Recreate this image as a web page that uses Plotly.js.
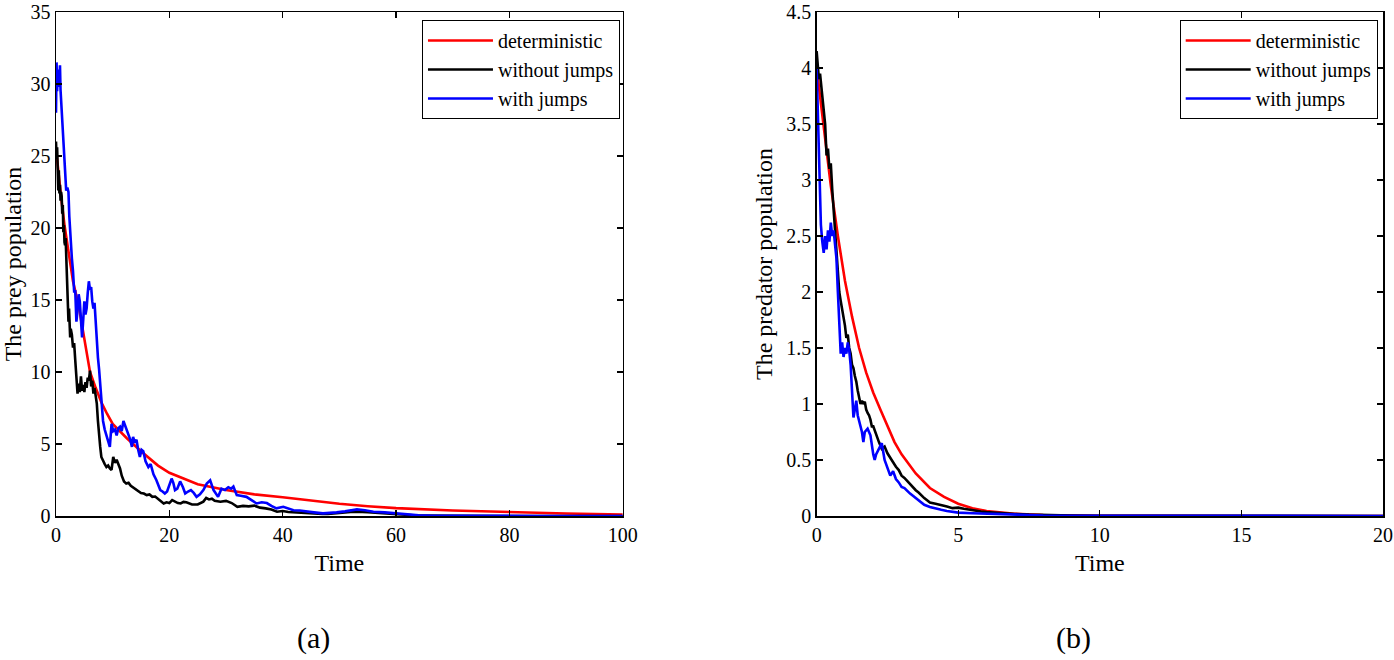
<!DOCTYPE html>
<html>
<head>
<meta charset="utf-8">
<script src="https://cdn.plot.ly/plotly-3.0.1.min.js"></script>
<style>html,body{margin:0;padding:0;background:#fff;}#chart{width:1394px;height:660px;}</style>
</head>
<body>
<div id="chart"></div>
<script>
// ---------- Panel (a): prey ----------
const preyDetT = [0,0.5,1,1.5,2,3,4,5,6,7,8,9,10,12.5,15,18,20,22.5,25,30,35,40,45,50,55,60,70,80,90,100];
const preyDetV = [25.5,23.5,21.8,20.2,18.8,16.3,14.6,12.2,10.0,8.9,7.9,7.1,6.4,5.4,4.5,3.5,3.0,2.6,2.2,1.8,1.5,1.3,1.05,0.85,0.68,0.55,0.38,0.26,0.17,0.1];

const preyNoJumpT = [
  0,0.1,0.2,0.3,0.4,0.5,0.6,0.7,0.8,0.9,
  1.0,1.1,1.2,1.3,1.4,1.5,1.6,1.7,1.8,1.9,
  2.0,2.1,2.2,2.3,2.4,2.5,2.6,2.8,3.0,3.2,
  3.4,3.6,3.8,4.0,4.2,4.4,4.6,4.8,5.0,5.2,
  5.4,5.6,5.8,6.0,6.2,6.4,6.6,6.8,7.0,7.2,
  7.4,7.6,7.8,8.0,8.3,8.6,8.9,9.2,9.5,9.8,
  10.1,10.4,10.7,11.0,11.3,11.6,12.0,12.4,12.8,13.2,
  13.6,14.0,14.5,15.0,15.5,16.0,16.5,17.0,17.5,18.0,
  18.5,19.0,19.5,20.0,20.5,21.0,21.5,22.0,22.5,23.0,
  23.5,24.0,25.0,26.0,26.5,27.0,27.5,28.0,29.0,30.0,
  31,32,33,34,35,36,37,38,39,40,
  41,42,43,44,45,46,47,48,49,50,
  51,52,53,54,55,56,57,58,59,60,
  61,62,63,65,68,72,80,90,100];
const preyNoJumpV = [
  26.0,24.8,25.6,23.4,22.6,24.0,22.4,23.0,21.9,22.5,
  22.2,21.0,21.6,19.7,20.2,19.0,18.8,19.3,17.9,17.6,
  16.2,14.6,13.5,14.4,13.2,12.4,13.0,12.6,11.7,12.0,
  10.8,9.6,8.5,9.2,8.6,9.7,8.7,9.1,8.6,9.3,
  8.9,9.6,9.4,10.1,9.0,9.4,8.5,8.9,8.2,7.8,
  6.6,5.5,4.8,4.1,3.8,3.6,3.4,3.5,3.3,3.2,
  4.1,3.7,3.9,3.6,3.3,2.8,2.4,2.25,2.3,2.1,
  2.0,1.9,1.75,1.6,1.56,1.45,1.5,1.33,1.35,1.2,
  1.0,0.87,0.95,0.9,1.1,1.0,0.9,0.87,0.98,0.95,
  0.85,0.8,0.8,1.0,1.25,1.15,1.2,1.05,0.99,1.05,
  0.9,0.64,0.7,0.67,0.72,0.58,0.53,0.45,0.3,0.35,
  0.28,0.25,0.22,0.2,0.18,0.17,0.15,0.14,0.16,0.2,
  0.24,0.28,0.3,0.28,0.27,0.24,0.2,0.18,0.15,0.12,
  0.09,0.07,0.05,0.03,0.02,0.01,0.005,0.002,0.001];

const preyJumpT = [
  0,0.1,0.2,0.3,0.4,0.5,0.6,0.7,0.8,0.9,
  1.0,1.1,1.2,1.3,1.4,1.5,1.6,1.8,2.0,2.2,
  2.35,2.5,2.65,2.8,3.0,3.2,3.4,3.6,3.8,4.0,
  4.2,4.4,4.6,4.8,5.0,5.2,5.4,5.6,5.8,6.0,
  6.2,6.4,6.6,6.8,7.0,7.2,7.4,7.6,7.8,8.0,
  8.3,8.6,8.9,9.2,9.5,9.8,10.1,10.4,10.7,11.0,
  11.3,11.6,11.9,12.2,12.5,12.8,13.1,13.4,13.6,13.9,
  14.2,14.5,14.8,15.1,15.4,15.8,16.3,16.7,17.2,17.7,
  18.1,18.4,18.8,19.2,19.6,20.0,20.4,20.7,21.0,21.4,
  21.9,22.4,22.8,23.3,23.8,24.3,24.8,25.4,26.0,26.6,
  27.2,27.8,28.2,28.6,29.2,29.8,30.4,30.9,31.3,31.9,
  32.6,33.6,34.5,35.4,36.3,37.2,38.0,38.9,40.1,41.0,
  41.9,43.0,44.2,45.5,47.1,48.3,49.5,51.0,52.0,53.1,
  54.5,56.0,58.0,60.2,61.5,62.5,64.0,66.0,69.0,75,
  85,100];
const preyJumpV = [
  28.0,31.5,29.5,30.8,29.8,31.0,30.2,31.3,29.6,28.9,
  28.2,27.2,26.5,25.4,25.0,23.9,23.6,22.6,22.8,22.5,
  20.8,19.7,18.3,17.9,17.0,15.6,15.6,13.5,14.3,15.4,
  14.9,13.8,12.4,13.6,14.9,14.0,14.4,15.5,16.3,15.7,
  15.9,14.9,14.4,14.8,13.2,12.1,11.0,10.2,9.0,7.8,
  6.6,6.0,5.5,5.2,4.8,6.4,5.9,6.0,5.6,6.1,
  6.2,5.9,6.6,6.3,6.0,5.7,5.3,4.8,5.5,5.1,
  5.3,4.6,4.1,4.6,4.5,3.8,3.4,3.6,2.9,2.5,
  2.1,1.8,1.7,1.56,1.7,2.1,2.6,2.3,1.8,1.9,
  2.4,2.0,1.56,1.7,1.8,1.6,1.33,1.5,1.8,2.25,
  2.48,1.8,1.6,1.33,1.9,1.8,2.0,1.9,2.05,1.45,
  1.4,1.33,1.1,0.87,0.95,0.9,0.7,0.53,0.64,0.5,
  0.4,0.38,0.3,0.25,0.18,0.2,0.25,0.32,0.4,0.46,
  0.4,0.3,0.25,0.18,0.12,0.07,0.05,0.03,0.02,0.01,
  0.005,0.002];

// ---------- Panel (b): predator ----------
const predDetT = [0,0.25,0.5,0.75,1,1.25,1.5,1.75,2,2.25,2.5,2.75,3,3.5,4,4.5,5,5.5,6,7,8,9,10,12,15,20];
const predDetV = [4.0,3.45,2.95,2.5,2.1,1.78,1.5,1.28,1.1,0.95,0.8,0.66,0.55,0.38,0.25,0.17,0.11,0.07,0.045,0.02,0.009,0.004,0.002,0.001,0,0];

const predNoJumpT = [
  0,0.04,0.08,0.12,0.16,0.2,0.25,0.3,0.35,0.4,
  0.45,0.5,0.55,0.6,0.65,0.7,0.75,0.8,0.85,0.9,
  0.95,1.0,1.05,1.1,1.15,1.2,1.25,1.3,1.35,1.4,
  1.45,1.5,1.55,1.6,1.65,1.7,1.75,1.8,1.85,1.9,
  1.95,2.0,2.1,2.2,2.3,2.4,2.5,2.6,2.7,2.8,
  2.9,3.0,3.1,3.2,3.3,3.4,3.5,3.6,3.7,3.8,
  3.9,4.0,4.2,4.4,4.6,4.8,5.0,5.2,5.4,5.6,
  5.8,6.0,6.5,7.0,7.5,8.0,9.0,10,12,20];
const predNoJumpV = [
  4.15,4.02,3.9,3.95,3.85,3.78,3.62,3.5,3.22,3.28,
  3.1,3.15,2.92,2.75,2.5,2.35,2.2,2.0,1.92,1.85,
  1.8,1.7,1.59,1.62,1.5,1.45,1.35,1.32,1.25,1.2,
  1.12,1.05,1.0,1.03,1.0,1.02,0.95,0.92,0.9,0.86,
  0.8,0.8,0.72,0.66,0.6,0.62,0.56,0.52,0.47,0.44,
  0.41,0.36,0.34,0.31,0.29,0.26,0.23,0.21,0.18,0.16,
  0.14,0.12,0.11,0.1,0.085,0.07,0.075,0.065,0.055,0.045,
  0.04,0.035,0.025,0.018,0.012,0.008,0.004,0.002,0.001,0];

const predJumpT = [
  0,0.03,0.06,0.09,0.12,0.15,0.2,0.25,0.3,0.35,
  0.4,0.45,0.5,0.55,0.6,0.65,0.7,0.75,0.8,0.85,
  0.9,0.95,1.0,1.05,1.1,1.15,1.2,1.25,1.3,1.35,
  1.4,1.45,1.5,1.55,1.6,1.65,1.7,1.8,1.9,2.0,
  2.05,2.1,2.2,2.3,2.4,2.5,2.6,2.7,2.8,2.9,
  3.0,3.1,3.2,3.3,3.4,3.5,3.6,3.8,4.0,4.2,
  4.4,4.6,4.8,5.0,5.5,6.0,7.0,8.0,10,20];
const predJumpV = [
  4.0,3.7,3.35,3.0,2.8,2.6,2.45,2.35,2.5,2.38,
  2.55,2.45,2.62,2.5,2.55,2.4,2.3,2.0,1.75,1.45,
  1.55,1.42,1.5,1.45,1.55,1.48,1.35,1.1,0.88,0.95,
  1.03,0.9,0.85,0.8,0.75,0.66,0.75,0.78,0.72,0.55,
  0.5,0.55,0.6,0.65,0.5,0.42,0.36,0.4,0.33,0.3,
  0.26,0.25,0.22,0.2,0.18,0.16,0.14,0.1,0.08,0.065,
  0.055,0.045,0.04,0.03,0.025,0.02,0.01,0.005,0.002,0];

const seriesNames = ['deterministic', 'without jumps', 'with jumps'];
const seriesColors = ['#ff0000', '#000000', '#0000ff'];
const panelLabels = ['(a)', '(b)'];
const yTitles = ['The prey population', 'The predator population'];
const xTitle = 'Time';

const FONT = '"Liberation Serif", "Times New Roman", serif';
const LW = 2.6;

function tr(x, y, i, xa, ya, leg) {
  return {x: x, y: y, type: 'scatter', mode: 'lines', name: seriesNames[i],
    line: {color: seriesColors[i], width: LW}, xaxis: xa, yaxis: ya, legend: leg};
}

const data = [
  tr(preyDetT, preyDetV, 0, 'x', 'y', 'legend'),
  tr(preyNoJumpT, preyNoJumpV, 1, 'x', 'y', 'legend'),
  tr(preyJumpT, preyJumpV, 2, 'x', 'y', 'legend'),
  tr(predDetT, predDetV, 0, 'x2', 'y2', 'legend2'),
  tr(predNoJumpT, predNoJumpV, 1, 'x2', 'y2', 'legend2'),
  tr(predJumpT, predJumpV, 2, 'x2', 'y2', 'legend2')
];

function axis(extra) {
  return Object.assign({
    showline: true, linecolor: '#000', linewidth: 1.5, mirror: 'ticks',
    ticks: 'inside', ticklen: 6, tickwidth: 1.2, tickcolor: '#000',
    showgrid: false, zeroline: false, automargin: false,
    ticklabeloverflow: 'allow',
    tickfont: {family: FONT, size: 20, color: '#000'}
  }, extra);
}

const legendBase = {
  font: {family: FONT, size: 20, color: '#000'},
  bgcolor: '#fff', bordercolor: '#000', borderwidth: 1,
  xanchor: 'right', yanchor: 'top', y: 0.984, itemwidth: 65,
  tracegroupgap: 0
};

const layout = {
  width: 1394, height: 660,
  margin: {l: 56, r: 11, t: 12, b: 144},
  paper_bgcolor: '#fff', plot_bgcolor: '#fff',
  font: {family: FONT, color: '#000'},
  xaxis: axis({domain: [0, 0.4271], range: [0, 100], dtick: 20, anchor: 'y',
    title: {text: xTitle, font: {family: FONT, size: 24, color: '#000'}, standoff: 9}}),
  yaxis: axis({range: [0, 35], dtick: 5, anchor: 'x',
    title: {text: yTitles[0], font: {family: FONT, size: 24, color: '#000'}, standoff: 6}}),
  xaxis2: axis({domain: [0.5732, 1], range: [0, 20], dtick: 5, anchor: 'y2',
    title: {text: xTitle, font: {family: FONT, size: 24, color: '#000'}, standoff: 9}}),
  yaxis2: axis({range: [0, 4.5], dtick: 0.5, anchor: 'x2',
    title: {text: yTitles[1], font: {family: FONT, size: 24, color: '#000'}, standoff: 6}}),
  legend: Object.assign({}, legendBase, {x: 0.425}),
  legend2: Object.assign({}, legendBase, {x: 0.996}),
  annotations: [
    {text: panelLabels[0], xref: 'paper', yref: 'paper', x: 0.194, y: -0.242,
     showarrow: false, xanchor: 'center', yanchor: 'middle',
     font: {family: FONT, size: 30, color: '#000'}},
    {text: panelLabels[1], xref: 'paper', yref: 'paper', x: 0.7664, y: -0.242,
     showarrow: false, xanchor: 'center', yanchor: 'middle',
     font: {family: FONT, size: 30, color: '#000'}}
  ]
};

Plotly.newPlot('chart', data, layout, {displayModeBar: false, staticPlot: true});
</script>
</body>
</html>
